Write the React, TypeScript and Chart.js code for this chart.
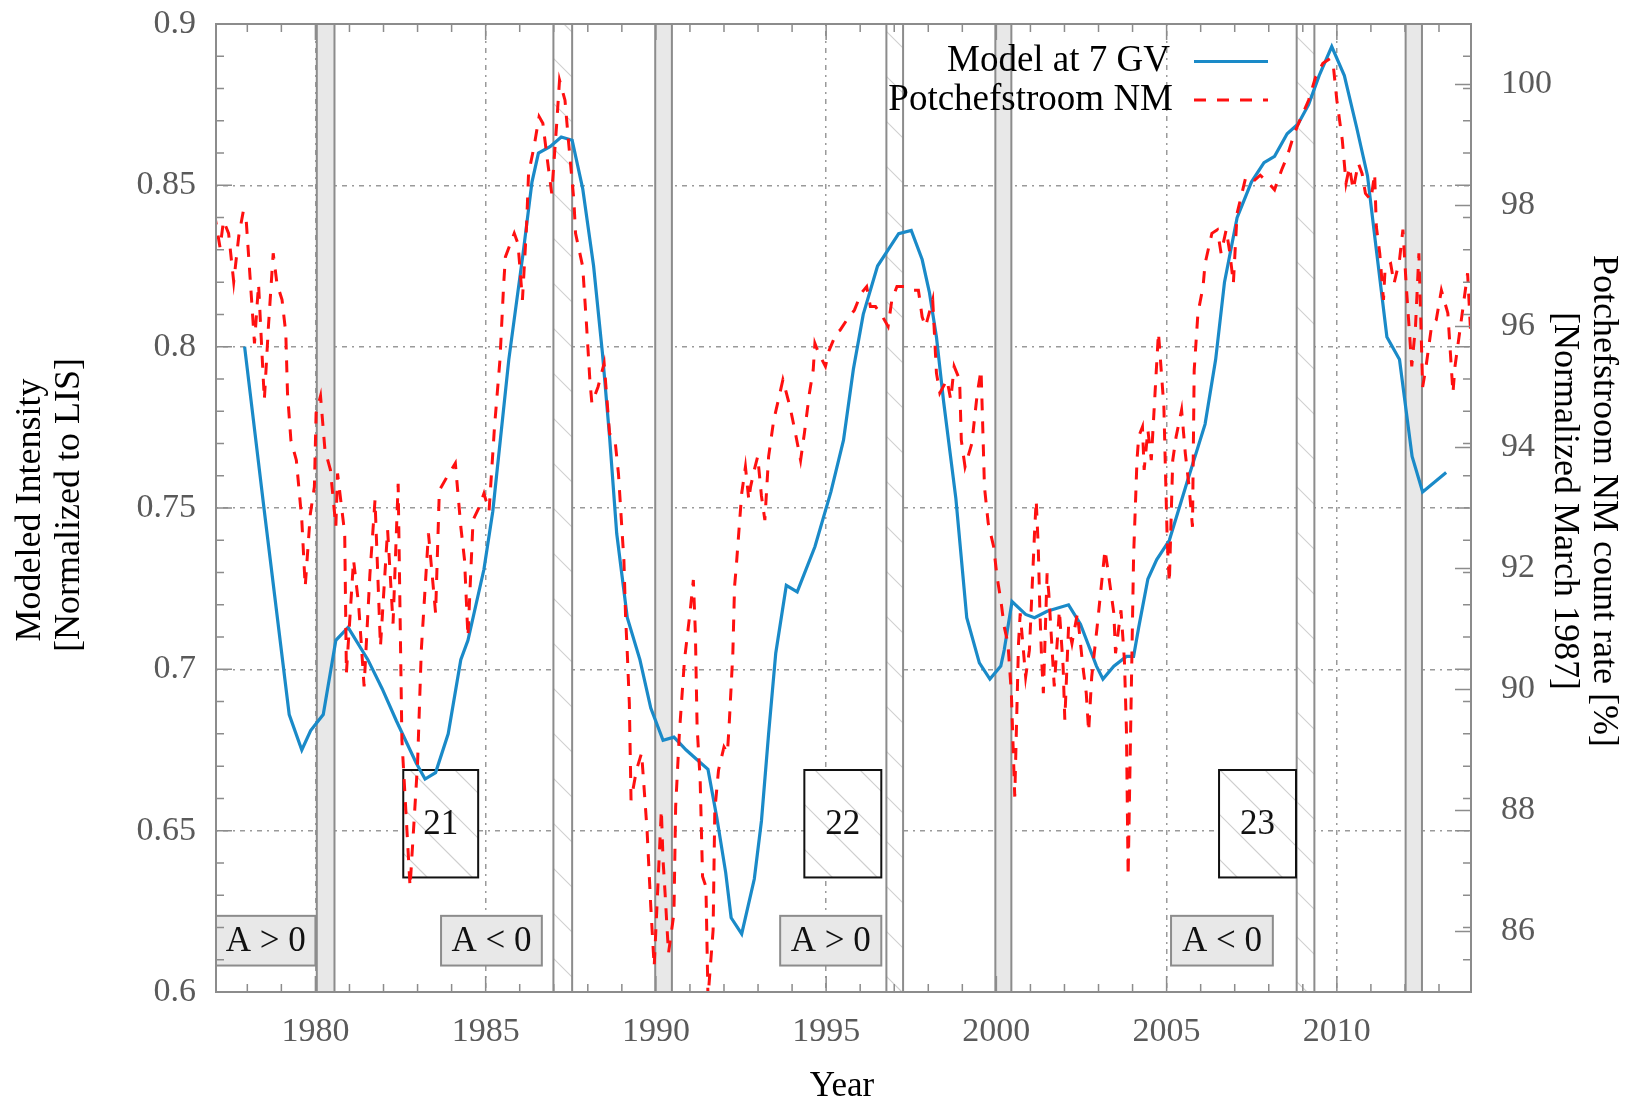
import { useEffect, useRef } from 'react';
import { Chart, registerables } from 'chart.js';

Chart.register(...registerables);

// ---------- data ----------
const modelYears = [
  1977.92, 1978.5, 1979.23, 1979.6, 1979.86, 1980.23, 1980.6, 1980.96, 1981.54, 1981.96,
  1982.38, 1982.96, 1983.22, 1983.53, 1983.9, 1984.27, 1984.48, 1984.95, 1985.21, 1985.68,
  1986.1, 1986.36, 1986.55, 1986.89, 1987.22, 1987.54, 1987.85, 1988.17, 1988.43, 1988.64,
  1988.85, 1989.16, 1989.53, 1989.85, 1990.21, 1990.53, 1990.89, 1991.21, 1991.53, 1991.79,
  1992.05, 1992.21, 1992.52, 1992.89, 1993.1, 1993.31, 1993.52, 1993.83, 1994.15, 1994.67,
  1995.14, 1995.51, 1995.8, 1996.09, 1996.51, 1996.82, 1997.13, 1997.5, 1997.82, 1998.03,
  1998.24, 1998.45, 1998.81, 1999.13, 1999.5, 1999.81, 2000.13, 2000.23, 2000.46, 2000.86,
  2001.12, 2001.49, 2002.12, 2002.47, 2002.94, 2003.13, 2003.45, 2003.82, 2004.03, 2004.18,
  2004.45, 2004.71, 2005.08, 2005.6, 2006.13, 2006.44, 2006.7, 2007.07, 2007.49, 2007.86,
  2008.17, 2008.54, 2008.86, 2009.17, 2009.48, 2009.85, 2010.22, 2010.58, 2010.9, 2011.16,
  2011.47, 2011.84, 2012.21, 2012.52, 2013.21,
];
const modelValues = [
  0.800, 0.749, 0.686, 0.675, 0.681, 0.686, 0.709, 0.713, 0.703, 0.694,
  0.684, 0.671, 0.666, 0.668, 0.680, 0.703, 0.709, 0.731, 0.749, 0.796,
  0.829, 0.851, 0.860, 0.862, 0.865, 0.864, 0.849, 0.825, 0.798, 0.772,
  0.742, 0.716, 0.703, 0.688, 0.678, 0.679, 0.675, 0.672, 0.669, 0.654,
  0.637, 0.623, 0.618, 0.635, 0.653, 0.680, 0.705, 0.726, 0.724, 0.738,
  0.755, 0.771, 0.793, 0.810, 0.825, 0.830, 0.835, 0.836, 0.827, 0.817,
  0.803, 0.783, 0.753, 0.716, 0.702, 0.697, 0.701, 0.706, 0.721, 0.717,
  0.716, 0.718, 0.720, 0.714, 0.701, 0.697, 0.701, 0.704, 0.704, 0.713,
  0.728, 0.734, 0.740, 0.758, 0.776, 0.796, 0.820, 0.840, 0.851, 0.857,
  0.859, 0.866, 0.869, 0.875, 0.884, 0.893, 0.884, 0.868, 0.853, 0.830,
  0.803, 0.796, 0.766, 0.755, 0.761,
];

const nmYears = [
  1977.03, 1977.2, 1977.3, 1977.45, 1977.6, 1977.75, 1977.88, 1977.97, 1978.08, 1978.21,
  1978.33, 1978.45, 1978.5, 1978.62, 1978.76, 1978.87, 1979.02, 1979.13, 1979.18, 1979.28,
  1979.44, 1979.6, 1979.7, 1979.85, 1979.97, 1980.02, 1980.15, 1980.28, 1980.44, 1980.6,
  1980.65, 1980.86, 1980.91, 1981.12, 1981.27, 1981.43, 1981.6, 1981.75, 1981.91, 1982.12,
  1982.28, 1982.43, 1982.54, 1982.78, 1983.0, 1983.11, 1983.32, 1983.53, 1983.64, 1983.85,
  1984.11, 1984.27, 1984.38, 1984.48, 1984.63, 1984.8, 1984.95, 1985.1, 1985.26, 1985.42,
  1985.53, 1985.58, 1985.84, 1985.95, 1986.08, 1986.2, 1986.26, 1986.42, 1986.57, 1986.68,
  1986.8, 1986.94, 1987.08, 1987.17, 1987.33, 1987.43, 1987.59, 1987.64, 1987.85, 1987.96,
  1988.06, 1988.12, 1988.3, 1988.48, 1988.64, 1988.8, 1988.9, 1989.01, 1989.06, 1989.11,
  1989.16, 1989.22, 1989.27, 1989.43, 1989.58, 1989.74, 1989.85, 1989.95, 1990.16, 1990.21,
  1990.27, 1990.37, 1990.53, 1990.58, 1990.69, 1990.84, 1991.0, 1991.1, 1991.16, 1991.21,
  1991.3, 1991.37, 1991.47, 1991.53, 1991.68, 1991.73, 1991.84, 1992.0, 1992.1, 1992.15,
  1992.26, 1992.31, 1992.36, 1992.47, 1992.52, 1992.63, 1992.73, 1992.78, 1992.89, 1992.99,
  1993.1, 1993.2, 1993.31, 1993.46, 1993.62, 1993.73, 1993.94, 1994.1, 1994.25, 1994.36,
  1994.51, 1994.62, 1994.67, 1994.78, 1994.98, 1995.09, 1995.3, 1995.41, 1995.61, 1995.83,
  1996.03, 1996.19, 1996.3, 1996.45, 1996.66, 1996.82, 1996.93, 1997.08, 1997.29, 1997.5,
  1997.71, 1997.82, 1997.92, 1998.13, 1998.24, 1998.34, 1998.55, 1998.66, 1998.76, 1998.92,
  1998.97, 1999.08, 1999.28, 1999.44, 1999.55, 1999.6, 1999.65, 1999.76, 1999.92, 2000.02,
  2000.13, 2000.23, 2000.34, 2000.44, 2000.54, 2000.65, 2000.7, 2000.86, 2000.97, 2001.12,
  2001.17, 2001.23, 2001.28, 2001.33, 2001.38, 2001.49, 2001.54, 2001.7, 2001.85, 2001.96,
  2002.01, 2002.12, 2002.22, 2002.38, 2002.54, 2002.64, 2002.71, 2002.8, 2002.96, 2003.19,
  2003.29, 2003.45, 2003.5, 2003.66, 2003.76, 2003.82, 2003.87, 2004.03, 2004.13, 2004.18,
  2004.29, 2004.34, 2004.45, 2004.55, 2004.66, 2004.76, 2004.92, 2004.97, 2005.02, 2005.08,
  2005.18, 2005.28, 2005.44, 2005.55, 2005.66, 2005.76, 2005.81, 2005.92, 2006.07, 2006.13,
  2006.33, 2006.49, 2006.6, 2006.75, 2006.86, 2006.96, 2007.07, 2007.33, 2007.59, 2007.75,
  2007.91, 2008.17, 2008.27, 2008.38, 2008.54, 2008.75, 2008.96, 2009.17, 2009.38, 2009.59,
  2009.8, 2009.9, 2010.0, 2010.16, 2010.27, 2010.37, 2010.48, 2010.63, 2010.74, 2010.84,
  2011.0, 2011.11, 2011.16, 2011.26, 2011.37, 2011.42, 2011.58, 2011.68, 2011.84, 2011.94,
  2012.04, 2012.2, 2012.31, 2012.41, 2012.52, 2012.62, 2012.78, 2012.92, 2013.07, 2013.26,
  2013.41, 2013.47, 2013.63, 2013.84, 2013.94,
];
const nmValues = [
  97.88, 97.3, 97.75, 97.54, 96.74, 97.5, 97.9, 97.73, 96.82, 95.72,
  96.7, 95.34, 94.79, 96.0, 97.21, 96.71, 96.44, 95.89, 94.9, 94.12,
  93.79, 92.8, 91.7, 92.9, 93.35, 94.57, 94.85, 93.96, 93.63, 92.69,
  93.57, 92.58, 90.27, 92.14, 91.4, 90.05, 91.9, 93.13, 90.71, 92.64,
  91.09, 93.4, 89.17, 86.74, 88.78, 90.65, 92.58, 91.26, 93.29, 93.5,
  93.74, 92.69, 92.14, 90.87, 92.8, 93.0, 93.24, 92.95, 94.34, 95.45,
  96.71, 97.15, 97.54, 97.37, 96.44, 97.65, 98.53, 98.97, 99.47, 99.36,
  98.81, 98.2, 99.3, 100.07, 99.74, 99.08, 98.09, 97.54, 96.99, 96.05,
  95.12, 94.73, 95.0, 95.39, 94.23, 94.12, 93.57, 92.58, 92.14, 91.2,
  90.6, 89.77, 88.17, 88.67, 88.95, 87.68, 86.41, 85.42, 88.01, 87.18,
  86.63, 85.64, 86.3, 88.06, 89.28, 90.49, 91.26, 91.81, 90.93, 89.39,
  88.5, 86.91, 86.74, 84.9, 86.02, 88.0, 88.67, 89.05, 88.95, 89.39,
  90.6, 91.7, 92.03, 92.86, 93.24, 93.68, 93.13, 93.35, 93.63, 93.85,
  93.2, 92.8, 93.85, 94.45, 94.84, 95.12, 94.67, 94.23, 93.79, 94.23,
  94.9, 95.28, 95.72, 95.56, 95.34, 95.61, 95.89, 95.94, 96.11, 96.27,
  96.55, 96.66, 96.33, 96.33, 96.16, 96.0, 96.44, 96.66, 96.66, 96.6,
  96.6, 96.16, 96.0, 96.44, 95.23, 94.9, 95.12, 94.79, 95.34, 95.12,
  94.12, 93.68, 94.07, 94.9, 95.28, 94.34, 93.35, 92.75, 92.36, 91.86,
  91.48, 91.04, 90.76, 89.94, 88.23, 90.76, 91.26, 90.21, 90.65, 92.58,
  93.13, 92.36, 91.26, 90.49, 89.94, 91.92, 91.59, 90.05, 91.31, 90.38,
  89.5, 91.04, 90.76, 91.26, 90.38, 89.94, 89.3, 90.21, 91.04, 92.31,
  91.92, 91.26, 90.6, 91.31, 90.49, 89.33, 86.91, 92.2, 93.79, 94.18,
  94.34, 93.63, 94.29, 93.79, 94.9, 95.9, 94.67, 93.52, 92.42, 91.76,
  93.79, 94.18, 94.62, 93.9, 93.35, 92.69, 95.28, 96.22, 96.66, 97.04,
  97.54, 97.6, 97.21, 97.6, 97.21, 96.71, 97.87, 98.48, 98.42, 98.5,
  98.42, 98.26, 98.42, 98.59, 98.81, 99.19, 99.47, 99.74, 100.13, 100.35,
  100.43, 100.29, 99.74, 99.08, 98.37, 98.64, 98.26, 98.7, 98.53, 98.2,
  98.09, 98.53, 97.65, 97.21, 96.44, 96.99, 97.04, 96.71, 97.1, 97.6,
  96.66, 95.34, 96.0, 97.21, 95.0, 95.34, 96.0, 96.11, 96.6, 96.22,
  94.9, 95.34, 96.0, 96.88, 95.78,
];

// tick labels
const xTickValues = [1980, 1985, 1990, 1995, 2000, 2005, 2010];
const xTickLabels = ['1980', '1985', '1990', '1995', '2000', '2005', '2010'];
const yTickValues = [0.6, 0.65, 0.7, 0.75, 0.8, 0.85, 0.9];
const yTickLabels = ['0.6', '0.65', '0.7', '0.75', '0.8', '0.85', '0.9'];
const y2TickValues = [86, 88, 90, 92, 94, 96, 98, 100];
const y2TickLabels = ['86', '88', '90', '92', '94', '96', '98', '100'];

// polarity reversal periods (years)
const greyBandStart = [1980.04, 1989.98, 1999.97, 2012.02];
const greyBandEnd = [1980.56, 1990.47, 2000.44, 2012.5];
const hatchBandStart = [1986.99, 1996.77, 2008.82];
const hatchBandEnd = [1987.54, 1997.26, 2009.34];

// solar cycle labels
const cycleLabels = ['21', '22', '23'];
const cycleStart = [1982.58, 1994.36, 2006.54];
const cycleEnd = [1984.78, 1996.62, 2008.8];
const cycleLow = 0.6355;
const cycleHigh = 0.6688;

// polarity labels
const polarityLabels = ['A > 0', 'A < 0', 'A > 0', 'A < 0'];
const polarityStart = [1977.08, 1983.69, 1993.65, 2005.13];
const polarityEnd = [1980.0, 1986.65, 1996.62, 2008.12];
const polarityLow = 0.6082;
const polarityHigh = 0.6236;

const X_MIN = 1977.08;
const X_MAX = 2013.94;

const SERIF = '"Liberation Serif", "Times New Roman", serif';
const BLUE = '#1a8ac8';
const RED = '#ff1010';

function hatch(ctx: CanvasRenderingContext2D, x0: number, y0: number, x1: number, y1: number, spacing: number) {
  ctx.save();
  ctx.beginPath();
  ctx.rect(x0, y0, x1 - x0, y1 - y0);
  ctx.clip();
  ctx.strokeStyle = '#cfcfcf';
  ctx.lineWidth = 1.2;
  ctx.beginPath();
  const start = Math.floor((x0 - y1) / spacing) * spacing;
  for (let k = start; k < x1 - y0; k += spacing) {
    ctx.moveTo(k + y0, y0);
    ctx.lineTo(k + y1, y1);
  }
  ctx.stroke();
  ctx.restore();
}

const decorPlugin = {
  id: 'decor',
  beforeDatasetsDraw(chart: any) {
    const { ctx, chartArea } = chart;
    const { left, right, top, bottom } = chartArea;
    const xs = chart.scales.x;
    const ys = chart.scales.y;
    ctx.save();
    ctx.beginPath();
    ctx.rect(left, top, right - left, bottom - top);
    ctx.clip();

    // hatched bands
    for (let i = 0; i < hatchBandStart.length; i++) {
      const a = xs.getPixelForValue(hatchBandStart[i]);
      const b = xs.getPixelForValue(hatchBandEnd[i]);
      ctx.fillStyle = '#ffffff';
      ctx.fillRect(a, top, b - a, bottom - top);
      hatch(ctx, a, top, b, bottom, 45);
      ctx.strokeStyle = '#8c8c8c';
      ctx.lineWidth = 2;
      ctx.beginPath();
      ctx.moveTo(a, top); ctx.lineTo(a, bottom);
      ctx.moveTo(b, top); ctx.lineTo(b, bottom);
      ctx.stroke();
    }
    // grey bands
    for (let i = 0; i < greyBandStart.length; i++) {
      const a = xs.getPixelForValue(greyBandStart[i]);
      const b = xs.getPixelForValue(greyBandEnd[i]);
      ctx.fillStyle = '#e8e8e8';
      ctx.fillRect(a, top, b - a, bottom - top);
      ctx.strokeStyle = '#8c8c8c';
      ctx.lineWidth = 2;
      ctx.beginPath();
      ctx.moveTo(a, top); ctx.lineTo(a, bottom);
      ctx.moveTo(b, top); ctx.lineTo(b, bottom);
      ctx.stroke();
    }
    // cycle boxes
    ctx.font = `35px ${SERIF}`;
    ctx.textAlign = 'center';
    ctx.textBaseline = 'middle';
    for (let i = 0; i < cycleLabels.length; i++) {
      const a = xs.getPixelForValue(cycleStart[i]);
      const b = xs.getPixelForValue(cycleEnd[i]);
      const t = ys.getPixelForValue(cycleHigh);
      const d = ys.getPixelForValue(cycleLow);
      ctx.fillStyle = '#ffffff';
      ctx.fillRect(a, t, b - a, d - t);
      hatch(ctx, a, t, b, d, 45);
      ctx.strokeStyle = '#111111';
      ctx.lineWidth = 2;
      ctx.strokeRect(a, t, b - a, d - t);
      ctx.fillStyle = '#111111';
      ctx.fillText(cycleLabels[i], (a + b) / 2, (t + d) / 2 + 1);
    }
    // polarity boxes
    for (let i = 0; i < polarityLabels.length; i++) {
      const a = xs.getPixelForValue(polarityStart[i]);
      const b = xs.getPixelForValue(polarityEnd[i]);
      const t = ys.getPixelForValue(polarityHigh);
      const d = ys.getPixelForValue(polarityLow);
      ctx.fillStyle = '#e8e8e8';
      ctx.fillRect(a, t, b - a, d - t);
      ctx.strokeStyle = '#8c8c8c';
      ctx.lineWidth = 2;
      ctx.strokeRect(a, t, b - a, d - t);
      ctx.fillStyle = '#111111';
      ctx.fillText(polarityLabels[i], (a + b) / 2, (t + d) / 2 + 1);
    }
    ctx.restore();
  },
  afterDraw(chart: any) {
    const { ctx, chartArea } = chart;
    const { left, right, top, bottom } = chartArea;
    const xs = chart.scales.x;
    const ys = chart.scales.y;
    const y2s = chart.scales.y2;
    ctx.save();
    // tick marks (inward)
    ctx.strokeStyle = '#8c8c8c';
    ctx.lineWidth = 1.5;
    ctx.beginPath();
    for (let yr = 1978; yr <= 2013; yr++) {
      const p = xs.getPixelForValue(yr);
      const len = yr % 5 === 0 ? 16 : 8;
      ctx.moveTo(p, bottom); ctx.lineTo(p, bottom - len);
      ctx.moveTo(p, top); ctx.lineTo(p, top + len);
    }
    for (let k = 61; k <= 89; k++) {
      const p = ys.getPixelForValue(k / 100);
      const len = k % 5 === 0 ? 16 : 8;
      ctx.moveTo(left, p); ctx.lineTo(left + len, p);
      ctx.moveTo(right, p); ctx.lineTo(right - len, p);
    }
    for (const v of y2TickValues) {
      const p = y2s.getPixelForValue(v);
      ctx.moveTo(right, p); ctx.lineTo(right - 16, p);
    }
    ctx.stroke();
    // frame
    ctx.lineWidth = 2;
    ctx.strokeRect(left, top, right - left, bottom - top);

    // legend
    ctx.font = `37px ${SERIF}`;
    ctx.fillStyle = '#000000';
    ctx.textAlign = 'right';
    ctx.textBaseline = 'middle';
    ctx.fillText('Model at 7 GV', 1170, 61);
    ctx.fillText('Potchefstroom NM', 1173, 100);
    ctx.lineWidth = 3;
    ctx.strokeStyle = BLUE;
    ctx.beginPath();
    ctx.moveTo(1194, 61.5); ctx.lineTo(1268, 61.5);
    ctx.stroke();
    ctx.strokeStyle = RED;
    ctx.setLineDash([12, 11]);
    ctx.beginPath();
    ctx.moveTo(1194, 100); ctx.lineTo(1268, 100);
    ctx.stroke();
    ctx.setLineDash([]);

    // axis titles
    ctx.fillStyle = '#000000';
    ctx.textAlign = 'center';
    ctx.textBaseline = 'middle';
    ctx.font = `35px ${SERIF}`;
    ctx.fillText('Year', 842, 1087);

    ctx.font = `36px ${SERIF}`;
    ctx.save();
    ctx.translate(31, 510);
    ctx.rotate(-Math.PI / 2);
    ctx.fillText('Modeled Intensity', 0, 0);
    ctx.restore();
    ctx.save();
    ctx.translate(70, 505);
    ctx.rotate(-Math.PI / 2);
    ctx.fillText('[Normalized to LIS]', 0, 0);
    ctx.restore();

    ctx.save();
    ctx.translate(1603, 501);
    ctx.rotate(Math.PI / 2);
    ctx.fillText('Potchefstroom NM count rate [%]', 0, 0);
    ctx.restore();
    ctx.save();
    ctx.translate(1564, 501);
    ctx.rotate(Math.PI / 2);
    ctx.fillText('[Normalized March 1987]', 0, 0);
    ctx.restore();

    ctx.restore();
  },
};

export default function App() {
  const canvasRef = useRef<HTMLCanvasElement | null>(null);

  useEffect(() => {
    const canvas = canvasRef.current;
    if (!canvas) return;
    const modelPoints = modelYears.map((x, i) => ({ x, y: modelValues[i] }));
    const nmPoints = nmYears.map((x, i) => ({ x, y: nmValues[i] }));
    const tickFont = { family: SERIF, size: 34 };
    const tickColor = '#5a5a5a';

    const chart = new Chart(canvas, {
      type: 'line',
      data: {
        datasets: [
          {
            label: 'Potchefstroom NM',
            data: nmPoints,
            yAxisID: 'y2',
            borderColor: RED,
            borderWidth: 3,
            borderDash: [12, 11],
            pointRadius: 0,
            tension: 0,
            fill: false,
          },
          {
            label: 'Model at 7 GV',
            data: modelPoints,
            yAxisID: 'y',
            borderColor: BLUE,
            borderWidth: 3.2,
            pointRadius: 0,
            tension: 0,
            fill: false,
          },
        ],
      },
      options: {
        animation: false,
        responsive: false,
        devicePixelRatio: 1,
        layout: { padding: { top: 24, left: 0, right: 0, bottom: 0 } },
        plugins: {
          legend: { display: false },
          tooltip: { enabled: false },
        },
        scales: {
          x: {
            type: 'linear',
            position: 'bottom',
            min: X_MIN,
            max: X_MAX,
            afterFit: (s: any) => { s.height = 112; s.paddingLeft = 0; s.paddingRight = 0; },
            afterBuildTicks: (s: any) => { s.ticks = xTickValues.map((v) => ({ value: v })); },
            ticks: {
              font: tickFont,
              color: tickColor,
              padding: 20,
              maxRotation: 0,
              autoSkip: false,
              callback: (v: any) => {
                const i = xTickValues.indexOf(Number(v));
                return i >= 0 ? xTickLabels[i] : null;
              },
            },
            grid: { color: '#9a9a9a', lineWidth: 1.5, drawTicks: false },
            border: { display: false, dash: [2, 5, 5, 5] },
          },
          y: {
            type: 'linear',
            position: 'left',
            min: 0.6,
            max: 0.9,
            afterFit: (s: any) => { s.width = 216; s.paddingTop = 0; s.paddingBottom = 0; },
            afterBuildTicks: (s: any) => { s.ticks = yTickValues.map((v) => ({ value: v })); },
            ticks: {
              font: tickFont,
              color: tickColor,
              padding: 20,
              autoSkip: false,
              callback: (v: any) => {
                const i = yTickValues.findIndex((t) => Math.abs(t - Number(v)) < 1e-6);
                return i >= 0 ? yTickLabels[i] : null;
              },
            },
            grid: { color: '#9a9a9a', lineWidth: 1.5, drawTicks: false },
            border: { display: false, dash: [2, 5, 5, 5] },
          },
          y2: {
            type: 'linear',
            position: 'right',
            min: 85,
            max: 101,
            afterFit: (s: any) => { s.width = 162; s.paddingTop = 0; s.paddingBottom = 0; },
            afterBuildTicks: (s: any) => { s.ticks = y2TickValues.map((v) => ({ value: v })); },
            ticks: {
              font: tickFont,
              color: tickColor,
              padding: 30,
              autoSkip: false,
              callback: (v: any) => {
                const i = y2TickValues.indexOf(Number(v));
                return i >= 0 ? y2TickLabels[i] : null;
              },
            },
            grid: { display: false, drawTicks: false },
            border: { display: false },
          },
        },
      },
      plugins: [decorPlugin],
    } as any);

    return () => chart.destroy();
  }, []);

  return (
    <div style={{ position: 'absolute', left: 0, top: 0, width: 1633, height: 1104, background: '#ffffff' }}>
      <canvas ref={canvasRef} width={1633} height={1104} style={{ display: 'block', width: '1633px', height: '1104px' }} />
    </div>
  );
}
